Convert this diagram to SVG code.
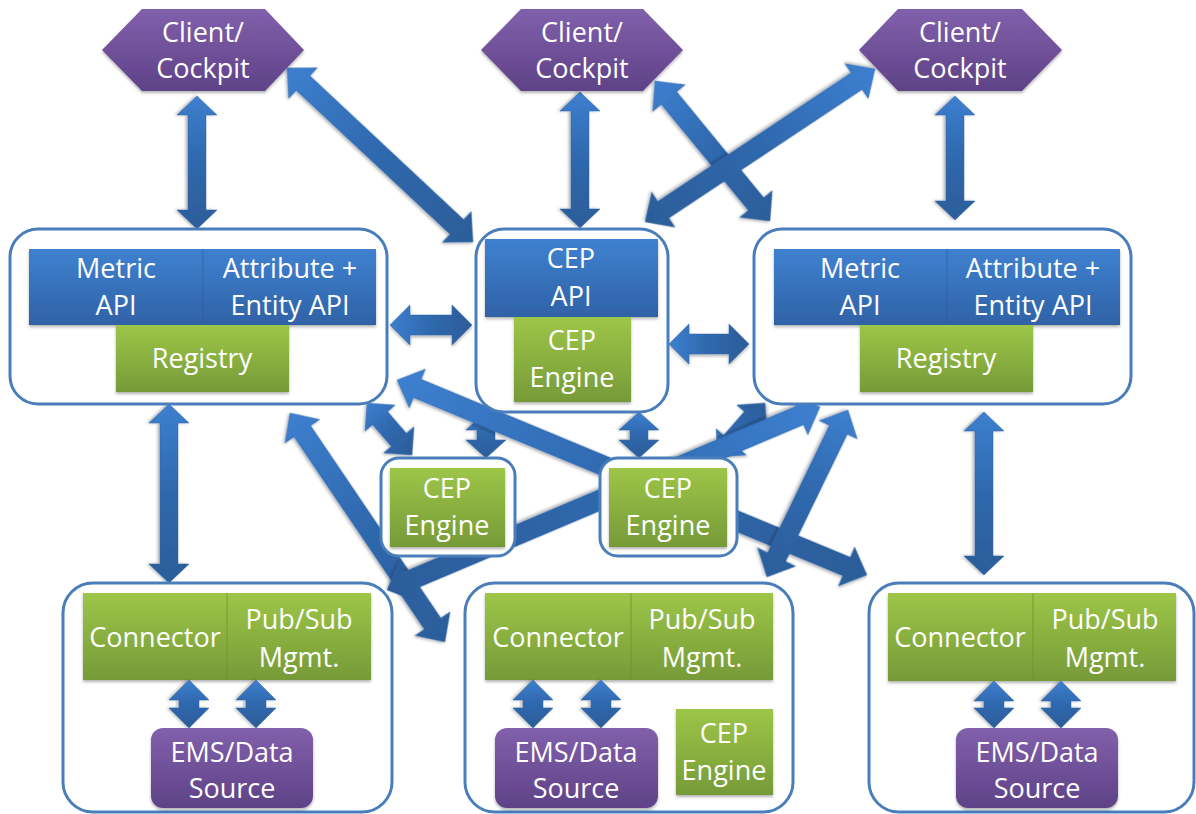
<svg xmlns="http://www.w3.org/2000/svg" width="1196" height="814" viewBox="0 0 1196 814">
  <defs>
    <linearGradient id="gBlue" x1="0" y1="0" x2="0" y2="1">
      <stop offset="0" stop-color="#3f81d0"/>
      <stop offset="1" stop-color="#2f62a6"/>
    </linearGradient>
    <linearGradient id="gGreen" x1="0" y1="0" x2="0" y2="1">
      <stop offset="0" stop-color="#9dc648"/>
      <stop offset="1" stop-color="#769a38"/>
    </linearGradient>
    <linearGradient id="gPurple" x1="0" y1="0" x2="0" y2="1">
      <stop offset="0" stop-color="#8160ab"/>
      <stop offset="1" stop-color="#5e4287"/>
    </linearGradient>
    <linearGradient id="gArrow" x1="0" y1="0" x2="1" y2="0">
      <stop offset="0" stop-color="#3d7fcf"/>
      <stop offset="0.5" stop-color="#2f68ad"/>
      <stop offset="1" stop-color="#2c5d99"/>
    </linearGradient>
    <filter id="shadow" x="-10%" y="-10%" width="120%" height="130%">
      <feDropShadow dx="0" dy="2" stdDeviation="1.5" flood-color="#000" flood-opacity="0.3"/>
    </filter>
    <style>
      .frame { fill: #ffffff; stroke: #4a7ebb; stroke-width: 3; }
      .blue { fill: url(#gBlue); filter: url(#shadow); }
      .green { fill: url(#gGreen); filter: url(#shadow); }
      .purple { fill: url(#gPurple); filter: url(#shadow); }
      .div { stroke: #2c5a92; stroke-width: 1; opacity: 0.6; }
      .divg { stroke: #6f8f33; stroke-width: 1; opacity: 0.8; }
      .arrow { fill: url(#gArrow); stroke: #2f65a8; stroke-width: 0.5; filter: url(#shadow); }
      text { font-family: "Open Sans", "Liberation Sans", sans-serif; font-size: 27px; fill: #ffffff; text-anchor: middle; }
    </style>
  </defs>

  <rect width="1196" height="814" fill="#ffffff"/>

  <!-- connectors: double-headed block arrows, drawn along +x then rotated into place -->
  <g id="connectors">
    <!-- clients to registries / CEP API (vertical) -->
    <polygon class="arrow" transform="translate(197,96) rotate(90)" points="0,0 19,-20 19,-9 114,-9 114,-20 133,0 114,20 114,9 19,9 19,20"/>
    <polygon class="arrow" transform="translate(580,92) rotate(90)" points="0,0 19,-20 19,-9 117,-9 117,-20 136,0 117,20 117,9 19,9 19,20"/>
    <polygon class="arrow" transform="translate(955,96) rotate(90)" points="0,0 19,-20 19,-9 105,-9 105,-20 124,0 105,20 105,9 19,9 19,20"/>
    <!-- registries to connector sites (vertical) -->
    <polygon class="arrow" transform="translate(169,404) rotate(90)" points="0,0 19,-20 19,-9 160,-9 160,-20 179,0 160,20 160,9 19,9 19,20"/>
    <polygon class="arrow" transform="translate(984,412) rotate(90)" points="0,0 19,-20 19,-9 144,-9 144,-20 163,0 144,20 144,9 19,9 19,20"/>
    <!-- registries to CEP (horizontal) -->
    <polygon class="arrow" transform="translate(390,325)" points="0,0 20,-20 20,-10 62,-10 62,-20 82,0 62,20 62,10 20,10 20,20"/>
    <polygon class="arrow" transform="translate(669,344)" points="0,0 20,-20 20,-10 60,-10 60,-20 80,0 60,20 60,10 20,10 20,20"/>
    <!-- CEP API to CEP engines (short vertical) -->
    <polygon class="arrow" transform="translate(486,412) rotate(90)" points="0,0 18,-20 18,-9 28,-9 28,-20 46,0 28,20 28,9 18,9 18,20"/>
    <polygon class="arrow" transform="translate(639,412) rotate(90)" points="0,0 18,-20 18,-9 28,-9 28,-20 46,0 28,20 28,9 18,9 18,20"/>
    <!-- short diagonals -->
    <polygon class="arrow" transform="translate(367,403) rotate(49.13)" points="0,0 20,-20 20,-10 48.8,-10 48.8,-20 68.8,0 48.8,20 48.8,10 20,10 20,20"/>
    <polygon class="arrow" transform="translate(718,457) rotate(-48.96)" points="0,0 20,-20 20,-10 51.6,-10 51.6,-20 71.6,0 51.6,20 51.6,10 20,10 20,20"/>
    <!-- clients to CEP API and registry (diagonal) -->
    <polygon class="arrow" transform="translate(287,68) rotate(43.09)" points="0,0 22,-21 22,-10 232.7,-10 232.7,-21 254.7,0 232.7,21 232.7,10 22,10 22,21"/>
    <polygon class="arrow" transform="translate(655,81) rotate(50.6)" points="0,0 22,-21 22,-10 159.2,-10 159.2,-21 181.2,0 159.2,21 159.2,10 22,10 22,21"/>
    <polygon class="arrow" transform="translate(875,69) rotate(146.37)" points="0,0 22,-21 22,-10 254.2,-10 254.2,-21 276.2,0 254.2,21 254.2,10 22,10 22,21"/>
    <!-- long cross links -->
    <polygon class="arrow" transform="translate(397,380) rotate(22.53)" points="0,0 22,-21 22,-10 486.8,-10 486.8,-21 508.8,0 486.8,21 486.8,10 22,10 22,21"/>
    <polygon class="arrow" transform="translate(290,413) rotate(55.91)" points="0,0 22,-21 22,-10 254.5,-10 254.5,-21 276.5,0 254.5,21 254.5,10 22,10 22,21"/>
    <polygon class="arrow" transform="translate(820,407) rotate(157.09)" points="0,0 22,-21 22,-10 448.1,-10 448.1,-21 470.1,0 448.1,21 448.1,10 22,10 22,21"/>
    <polygon class="arrow" transform="translate(848,410) rotate(115.88)" points="0,0 22,-21 22,-10 163.6,-10 163.6,-21 185.6,0 163.6,21 163.6,10 22,10 22,21"/>
  </g>

  <!-- clients -->
  <g id="client-left">
    <polygon class="purple" points="102,50 142,9 265,9 304,50 265,91 142,91"/>
    <text x="203" y="42">Client/</text>
    <text x="203" y="78">Cockpit</text>
  </g>
  <g id="client-middle">
    <polygon class="purple" points="481,50 521,9 643,9 683,50 643,91 521,91"/>
    <text x="582" y="42">Client/</text>
    <text x="582" y="78">Cockpit</text>
  </g>
  <g id="client-right">
    <polygon class="purple" points="859,50 898,9 1022,9 1062,50 1022,91 898,91"/>
    <text x="960" y="42">Client/</text>
    <text x="960" y="78">Cockpit</text>
  </g>

  <!-- registry sites -->
  <g id="registry-left">
    <rect class="frame" x="10" y="229" width="377" height="175" rx="28"/>
    <rect class="blue" x="29" y="249" width="347" height="76"/>
    <line class="div" x1="203" y1="249" x2="203" y2="325"/>
    <text x="116" y="278">Metric</text>
    <text x="116" y="315">API</text>
    <text x="290" y="278">Attribute +</text>
    <text x="290" y="315">Entity API</text>
    <rect class="green" x="116" y="325" width="173" height="67"/>
    <text x="202" y="368">Registry</text>
  </g>
  <g id="cep-api">
    <rect class="frame" x="476" y="229" width="192" height="183" rx="28"/>
    <rect class="blue" x="485" y="239" width="173" height="78"/>
    <text x="571" y="268">CEP</text>
    <text x="571" y="306">API</text>
    <rect class="green" x="514" y="317" width="117" height="85"/>
    <text x="572" y="350">CEP</text>
    <text x="572" y="387">Engine</text>
  </g>
  <g id="registry-right">
    <rect class="frame" x="754" y="229" width="377" height="175" rx="28"/>
    <rect class="blue" x="774" y="249" width="346" height="76"/>
    <line class="div" x1="947" y1="249" x2="947" y2="325"/>
    <text x="860" y="278">Metric</text>
    <text x="860" y="315">API</text>
    <text x="1033" y="278">Attribute +</text>
    <text x="1033" y="315">Entity API</text>
    <rect class="green" x="860" y="325" width="173" height="67"/>
    <text x="946" y="368">Registry</text>
  </g>

  <!-- standalone CEP engines -->
  <g id="cep-engine-1">
    <rect class="frame" x="381" y="458" width="134" height="98" rx="18"/>
    <rect class="green" x="390" y="468" width="115" height="79"/>
    <text x="447" y="498">CEP</text>
    <text x="447" y="535">Engine</text>
  </g>
  <g id="cep-engine-2">
    <rect class="frame" x="600" y="458" width="137" height="98" rx="18"/>
    <rect class="green" x="609" y="468" width="118" height="79"/>
    <text x="668" y="498">CEP</text>
    <text x="668" y="535">Engine</text>
  </g>

  <!-- connector sites -->
  <g id="site-left">
    <rect class="frame" x="63" y="583" width="329" height="229" rx="30"/>
    <rect class="green" x="83" y="593" width="288" height="87"/>
    <line class="divg" x1="227" y1="593" x2="227" y2="680"/>
    <text x="155" y="647">Connector</text>
    <text x="299" y="629">Pub/Sub</text>
    <text x="299" y="667">Mgmt.</text>
    <polygon class="arrow" transform="translate(189,680) rotate(90)" points="0,0 20,-20 20,-10 28,-10 28,-20 48,0 28,20 28,10 20,10 20,20"/>
    <polygon class="arrow" transform="translate(256,680) rotate(90)" points="0,0 20,-20 20,-10 28,-10 28,-20 48,0 28,20 28,10 20,10 20,20"/>
    <rect class="purple" x="151" y="728" width="162" height="80" rx="12"/>
    <text x="232" y="762">EMS/Data</text>
    <text x="232" y="798">Source</text>
  </g>
  <g id="site-middle">
    <rect class="frame" x="465" y="583" width="328" height="229" rx="30"/>
    <rect class="green" x="485" y="593" width="288" height="87"/>
    <line class="divg" x1="631" y1="593" x2="631" y2="680"/>
    <text x="558" y="647">Connector</text>
    <text x="702" y="629">Pub/Sub</text>
    <text x="702" y="667">Mgmt.</text>
    <polygon class="arrow" transform="translate(533,680) rotate(90)" points="0,0 20,-20 20,-10 28,-10 28,-20 48,0 28,20 28,10 20,10 20,20"/>
    <polygon class="arrow" transform="translate(601,680) rotate(90)" points="0,0 20,-20 20,-10 28,-10 28,-20 48,0 28,20 28,10 20,10 20,20"/>
    <rect class="purple" x="495" y="728" width="163" height="80" rx="12"/>
    <text x="576" y="762">EMS/Data</text>
    <text x="576" y="798">Source</text>
    <rect class="green" x="676" y="709" width="97" height="86"/>
    <text x="724" y="743">CEP</text>
    <text x="724" y="780">Engine</text>
  </g>
  <g id="site-right">
    <rect class="frame" x="869" y="583" width="325" height="229" rx="30"/>
    <rect class="green" x="888" y="593" width="288" height="88"/>
    <line class="divg" x1="1033" y1="593" x2="1033" y2="681"/>
    <text x="960" y="647">Connector</text>
    <text x="1105" y="629">Pub/Sub</text>
    <text x="1105" y="667">Mgmt.</text>
    <polygon class="arrow" transform="translate(994,681) rotate(90)" points="0,0 20,-20 20,-10 27,-10 27,-20 47,0 27,20 27,10 20,10 20,20"/>
    <polygon class="arrow" transform="translate(1061,681) rotate(90)" points="0,0 20,-20 20,-10 27,-10 27,-20 47,0 27,20 27,10 20,10 20,20"/>
    <rect class="purple" x="956" y="728" width="162" height="80" rx="12"/>
    <text x="1037" y="762">EMS/Data</text>
    <text x="1037" y="798">Source</text>
  </g>
</svg>
